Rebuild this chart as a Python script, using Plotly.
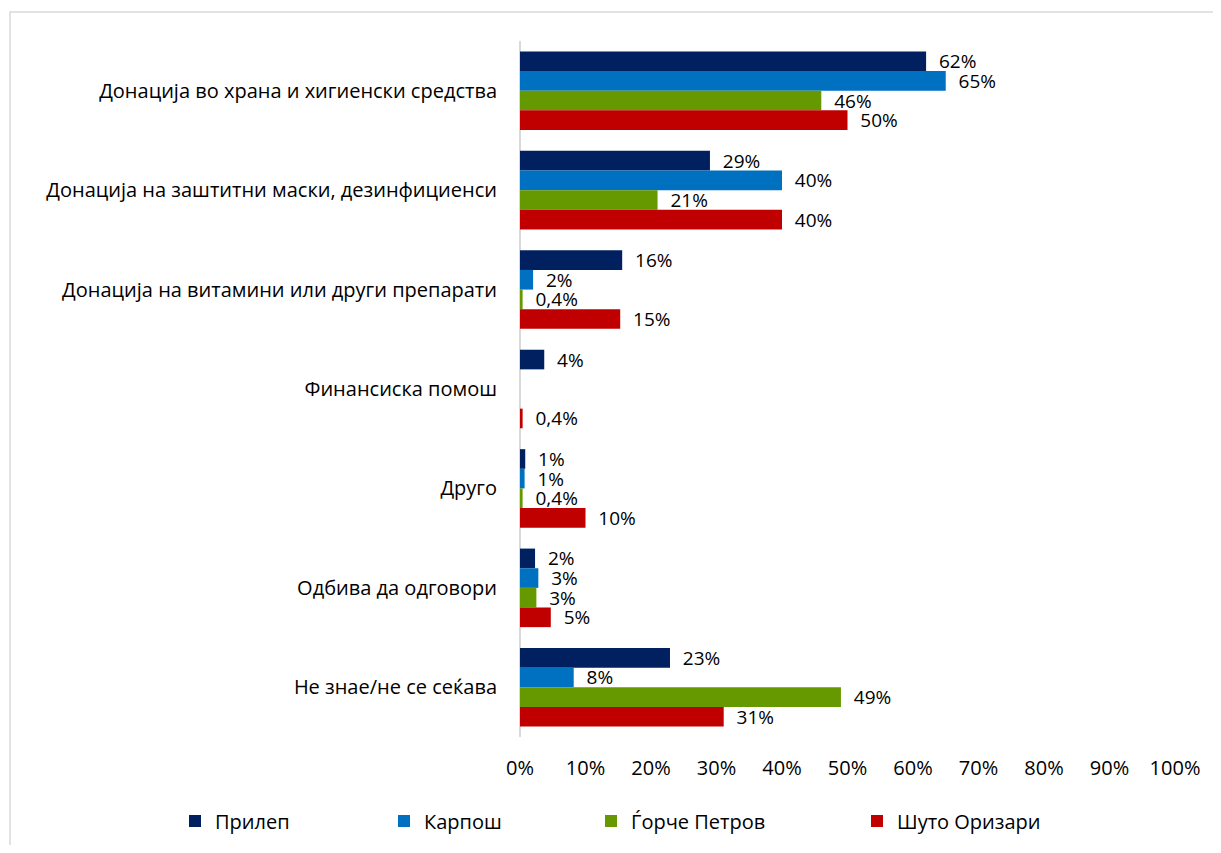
import plotly.graph_objects as go

categories = [
    "Донација во храна и хигиенски средства",
    "Донација на заштитни маски, дезинфициенси",
    "Донација на витамини или други препарати",
    "Финансиска помош",
    "Друго",
    "Одбива да одговори",
    "Не знае/не се сеќава",
]
series_names = ["Прилеп", "Карпош", "Ѓорче Петров", "Шуто Оризари"]
colors = ["#002060", "#0070C0", "#669900", "#C00000"]

prilep = [62, 29, 15.6, 3.7, 0.8, 2.3, 22.9]
karposh = [65, 40, 2, None, 0.7, 2.8, 8.2]
gjorche = [46, 21, 0.4, None, 0.4, 2.5, 49]
shuto = [50, 40, 15.3, 0.4, 10, 4.7, 31.1]

prilep_lbl = ["62%", "29%", "16%", "4%", "1%", "2%", "23%"]
karposh_lbl = ["65%", "40%", "2%", "", "1%", "3%", "8%"]
gjorche_lbl = ["46%", "21%", "0,4%", "", "0,4%", "3%", "49%"]
shuto_lbl = ["50%", "40%", "15%", "0,4%", "10%", "5%", "31%"]

tick_vals = [0, 10, 20, 30, 40, 50, 60, 70, 80, 90, 100]
tick_text = ["0%", "10%", "20%", "30%", "40%", "50%", "60%", "70%", "80%", "90%", "100%"]

values = [prilep, karposh, gjorche, shuto]
labels = [prilep_lbl, karposh_lbl, gjorche_lbl, shuto_lbl]

# page body has an 8px margin; the figure is sized to fit inside the window
W, H = 1205, 837
ml, mr, mt, mb = 512, 38, 33, 108
pw, ph = W - ml - mr, H - mt - mb

legend_names = ["legend", "legend2", "legend3", "legend4"]
legend_left_px = [167, 376, 583, 849]

fig = go.Figure()
for name, col, v, l, lg in zip(series_names, colors, values, labels, legend_names):
    fig.add_trace(go.Bar(
        y=categories, x=v, name=name, orientation="h",
        marker=dict(color=col, line=dict(width=0)),
        text=l, texttemplate="\u00a0\u00a0%{text}",
        textposition="outside", constraintext="none", cliponaxis=False,
        textfont=dict(family="Open Sans", size=19, color="#000000"),
        hoverinfo="x+y", legend=lg,
    ))

legend_common = dict(orientation="h", xref="container", yref="container",
                     xanchor="left", yanchor="middle", y=24 / H,
                     font=dict(family="Open Sans", size=20, color="#000000"),
                     bgcolor="rgba(0,0,0,0)", borderwidth=0)
legend_layout = {}
for lg, px in zip(legend_names, legend_left_px):
    legend_layout[lg] = dict(legend_common, x=px / W)

fig.update_layout(
    width=W, height=H,
    margin=dict(l=ml, r=mr, t=mt, b=mb, pad=0),
    barmode="group", bargap=0.21, bargroupgap=0,
    plot_bgcolor="white", paper_bgcolor="white",
    font=dict(family="Open Sans", size=19, color="#000000"),
    xaxis=dict(range=[0, 100], tickvals=tick_vals, ticktext=tick_text,
               showgrid=False, zeroline=True, zerolinecolor="#D9D9D9", zerolinewidth=2,
               showline=False, ticks="", ticklabelstandoff=17,
               tickfont=dict(family="Open Sans", size=20)),
    yaxis=dict(autorange="reversed", showgrid=False, zeroline=False, showline=False,
               ticks="", ticklabelstandoff=22,
               tickfont=dict(family="Open Sans", size=20)),
    showlegend=True,
    shapes=[dict(type="rect", xref="paper", yref="paper",
                 x0=(2 - ml) / pw, x1=(W + 20 - ml) / pw,
                 y0=-(H + 20 - mt - ph) / ph, y1=1 + (mt - 4) / ph,
                 line=dict(color="#D9D9D9", width=1.5), fillcolor="rgba(0,0,0,0)", layer="below")],
    **legend_layout,
)

fig.write_html("out.html")
